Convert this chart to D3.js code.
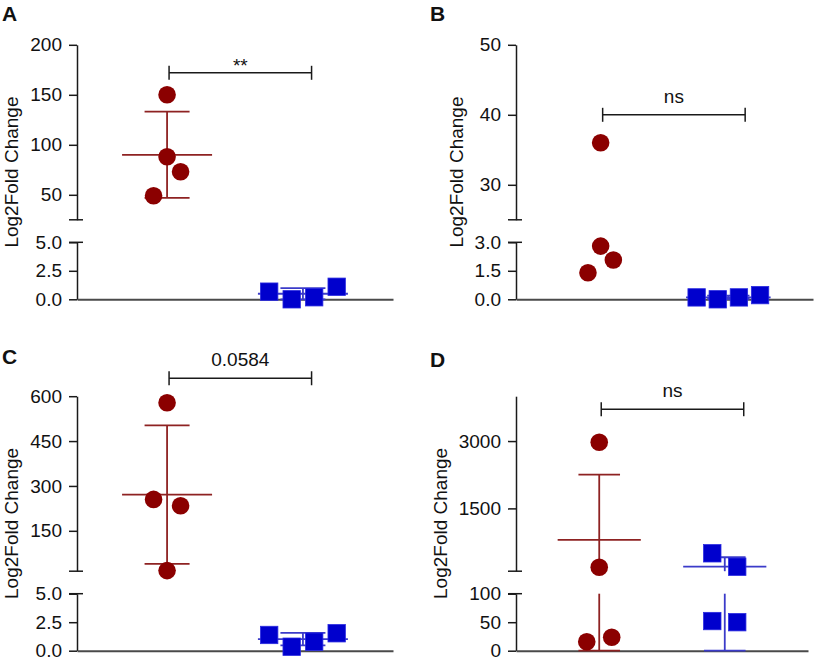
<!DOCTYPE html>
<html>
<head>
<meta charset="utf-8">
<script src="https://cdn.jsdelivr.net/npm/d3@7"></script>
<style>
  body { margin: 0; background: #fff; }
  svg text { font-family: "Liberation Sans", Arial, Helvetica, sans-serif; fill: #111; }
</style>
</head>
<body>
<svg id="chart" width="815" height="662"></svg>
<script>
// groups on the x axis (no labels shown)
const groups = ['g1', 'g2'];

// panel A
const aRed = [150, 88, 73, 49];
const aBlue = [0.67, 0.0, 0.18, 1.1];
const aUpperDomain = [25, 200];
const aLowerDomain = [0, 5];
const aUpperTicks = [50, 100, 150, 200];
const aLowerTicks = [0, 2.5, 5];

// panel B
const bRed = [36.0, 2.8, 2.07, 1.4];
const bBlue = [0.1, 0.0, 0.1, 0.22];
const bUpperDomain = [25, 50];
const bLowerDomain = [0, 3];
const bUpperTicks = [30, 40, 50];
const bLowerTicks = [0, 1.5, 3];

// panel C
const cRed = [578, 255, 234, 17];
const cBlue = [1.38, 0.35, 0.79, 1.53];
const cUpperDomain = [15, 600];
const cLowerDomain = [0, 5];
const cUpperTicks = [150, 300, 450, 600];
const cLowerTicks = [0, 2.5, 5];

// panel D
const dRed = [2973, 187, 15.8, 23.5];
const dBlue = [499, 200, 52, 50];
const dUpperDomain = [100, 4000];
const dLowerDomain = [0, 100];
const dUpperTicks = [1500, 3000];
const dLowerTicks = [0, 50, 100];

// significance labels and bracket heights (data units)
const sigLabels = ['**', 'ns', '0.0584', 'ns'];
const sigLevels = [172, 40, 660, 3710];

// scatter slots (side-by-side placement of overlapping points)
const aRedSlots = [0, 0, 0.6, -0.6];
const aBlueSlots = [-1.5, -0.5, 0.5, 1.5];
const bRedSlots = [0, 0, 0.6, -0.6];
const bBlueSlots = [-1.5, -0.5, 0.5, 1.5];
const cRedSlots = [0, -0.6, 0.6, 0];
const cBlueSlots = [-1.5, -0.5, 0.5, 1.5];
const dRedSlots = [0, 0, -0.6, 0.6];
const dBlueSlots = [-0.6, 0.6, -0.6, 0.6];

const RED = '#8b0000', RED_LINE = '#8e2222';
const BLUE = '#0000cd', BLUE_LINE = '#3b3bc9';
const LOWER_H = 57, GAP = 22.5, PLOT_H = 254.5;
const TICK = 8, BREAK_OUT = 6;

const panels = [
  {id: 'A', red: aRed, blue: aBlue, redSlots: aRedSlots, blueSlots: aBlueSlots,
   upper: aUpperDomain, lower: aLowerDomain, upperTicks: aUpperTicks, lowerTicks: aLowerTicks, lowerFmt: '.1f',
   left: 77, right: 393, bottom: 299.3, letter: [2, 21]},
  {id: 'B', red: bRed, blue: bBlue, redSlots: bRedSlots, blueSlots: bBlueSlots,
   upper: bUpperDomain, lower: bLowerDomain, upperTicks: bUpperTicks, lowerTicks: bLowerTicks, lowerFmt: '.1f',
   left: 516, right: 813, bottom: 299.3, letter: [430, 21]},
  {id: 'C', red: cRed, blue: cBlue, redSlots: cRedSlots, blueSlots: cBlueSlots,
   upper: cUpperDomain, lower: cLowerDomain, upperTicks: cUpperTicks, lowerTicks: cLowerTicks, lowerFmt: '.1f',
   left: 77, right: 393, bottom: 650.7, letter: [2, 364]},
  {id: 'D', red: dRed, blue: dBlue, redSlots: dRedSlots, blueSlots: dBlueSlots,
   upper: dUpperDomain, lower: dLowerDomain, upperTicks: dUpperTicks, lowerTicks: dLowerTicks, lowerFmt: 'd',
   left: 516, right: 808, bottom: 650.7, letter: [430, 367]}
];

const svg = d3.select('#chart');

panels.forEach((p, i) => drawPanel(p, sigLabels[i], sigLevels[i]));

function drawPanel(p, sigLabel, sigLevel) {
  const g = svg.append('g').attr('class', 'panel-' + p.id);
  const L = p.right - p.left;

  const yLower = d3.scaleLinear().domain(p.lower).range([p.bottom, p.bottom - LOWER_H]);
  const yUpper = d3.scaleLinear().domain(p.upper).range([p.bottom - LOWER_H - GAP, p.bottom - PLOT_H]);
  const x = d3.scalePoint().domain(groups).range([p.left, p.right]).padding(0.663);
  const yPos = v => v <= p.lower[1] ? yLower(Math.max(v, p.lower[0])) : yUpper(v);
  const inSeg = v => (v >= p.lower[0] && v <= p.lower[1]) || (v >= p.upper[0] && v <= p.upper[1]);

  // y axis, two segments
  const axisUpper = g.append('g').attr('transform', `translate(${p.left},0)`)
    .call(d3.axisLeft(yUpper).tickValues(p.upperTicks).tickSize(TICK).tickSizeOuter(0).tickPadding(7).tickFormat(d3.format('d')));
  const axisLower = g.append('g').attr('transform', `translate(${p.left},0)`)
    .call(d3.axisLeft(yLower).tickValues(p.lowerTicks).tickSize(TICK).tickSizeOuter(0).tickPadding(7).tickFormat(d3.format(p.lowerFmt)));
  [axisUpper, axisLower].forEach(a => {
    a.selectAll('.domain, .tick line').attr('stroke', '#1a1a1a').attr('stroke-width', 1.5);
    a.selectAll('.tick text').attr('font-size', 19).attr('fill', '#111')
      .style('font-family', '"Liberation Sans", Arial, sans-serif');
  });

  // break marks
  [yUpper.range()[0], yLower.range()[1]].forEach(yb => {
    g.append('line').attr('x1', p.left - TICK).attr('x2', p.left + BREAK_OUT)
      .attr('y1', yb).attr('y2', yb).attr('stroke', '#1a1a1a').attr('stroke-width', 1.5);
  });

  // x axis
  const xAxis = g.append('g').attr('transform', `translate(0,${p.bottom})`)
    .call(d3.axisBottom(x).tickValues([]).tickSizeOuter(0));
  xAxis.select('.domain').attr('stroke', '#4a4a4a').attr('stroke-width', 2);

  // axis title
  let labelW = 0;
  [axisUpper, axisLower].forEach(a => a.selectAll('.tick text').each(function () {
    labelW = Math.max(labelW, this.getBBox().width);
  }));
  const titleX = p.left - TICK - 7 - labelW - 12;
  const titleY = (p.bottom + p.bottom - PLOT_H) / 2;
  g.append('text')
    .attr('transform', `translate(${titleX},${titleY}) rotate(-90)`)
    .attr('text-anchor', 'middle').attr('font-size', 19)
    .text('Log2Fold Change');

  // panel letter
  g.append('text').attr('x', p.letter[0]).attr('y', p.letter[1])
    .attr('font-size', 21).attr('font-weight', 'bold').text(p.id);

  // error bars: mean +/- SD
  const unit = 0.0712 * L;
  function bars(values, cx, color) {
    const m = d3.mean(values), sd = d3.deviation(values);
    if (!inSeg(m)) return;
    const bg = g.append('g').attr('stroke', color).attr('stroke-width', 1.8);
    [[yLower, p.lower], [yUpper, p.upper]].forEach(([s, d]) => {
      const lo = Math.max(m - sd, d[0]), hi = Math.min(m + sd, d[1]);
      if (lo < hi) bg.append('line').attr('x1', cx).attr('x2', cx).attr('y1', s(lo)).attr('y2', s(hi));
    });
    [m - sd, m + sd].forEach(v => {
      const c = Math.max(v, p.lower[0]);
      if (inSeg(c)) bg.append('line').attr('x1', cx - unit).attr('x2', cx + unit)
        .attr('y1', yPos(c)).attr('y2', yPos(c));
    });
    bg.append('line').attr('x1', cx - 2 * unit).attr('x2', cx + 2 * unit)
      .attr('y1', yPos(m)).attr('y2', yPos(m));
  }
  bars(p.red, x('g1'), RED_LINE);
  bars(p.blue, x('g2'), BLUE_LINE);

  // points
  g.append('g').selectAll('circle').data(p.red).join('circle')
    .attr('cx', (d, i) => x('g1') + p.redSlots[i] * unit)
    .attr('cy', d => yPos(d))
    .attr('r', 8.8).attr('fill', RED);
  const side = 17.4;
  g.append('g').selectAll('rect').data(p.blue).join('rect')
    .attr('x', (d, i) => x('g2') + p.blueSlots[i] * unit - side / 2)
    .attr('y', d => yPos(d) - side / 2)
    .attr('width', side).attr('height', side)
    .attr('fill', BLUE).attr('stroke', '#2a2ae0').attr('stroke-width', 0.8);

  // significance bracket
  const by = yUpper(sigLevel);
  const bx1 = x('g1') + 2, bx2 = bx1 + 142.5;
  const sg = g.append('g').attr('stroke', '#1a1a1a').attr('stroke-width', 1.5);
  sg.append('line').attr('x1', bx1).attr('x2', bx2).attr('y1', by).attr('y2', by);
  [bx1, bx2].forEach(bx => sg.append('line').attr('x1', bx).attr('x2', bx).attr('y1', by - 7).attr('y2', by + 7));
  g.append('text').attr('x', (bx1 + bx2) / 2)
    .attr('y', sigLabel === '**' ? by - 1 : by - 12)
    .attr('text-anchor', 'middle').attr('font-size', 19)
    .text(sigLabel);
}
</script>
</body>
</html>
